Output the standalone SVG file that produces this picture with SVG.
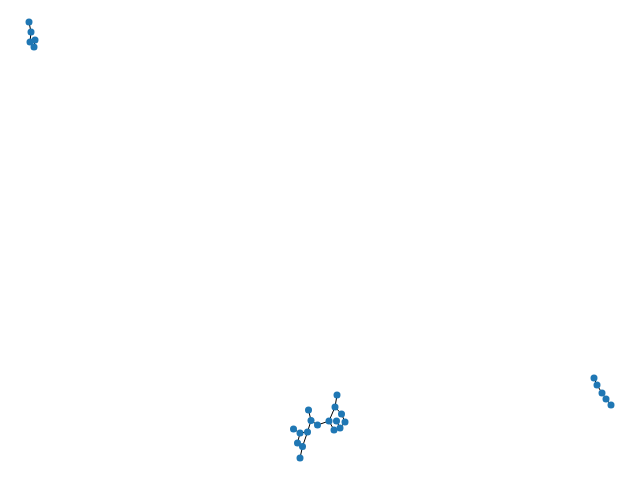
<svg xmlns="http://www.w3.org/2000/svg" width="640" height="480" viewBox="0 0 640 480">
<style>
.n{fill:#1f77b4}
.e{stroke:#000;stroke-width:1;fill:none}
</style>
<rect width="640" height="480" fill="#fff"/>
<g id="edges" class="e">
<path d="M29,22L31,32L30,42L35,40L34,47"/>
<path d="M594,378L597,385L602,393L606,399L611,405"/>
<path d="M337,395L335,407M335,407L341.5,414L345,422L340,428L334,430L329,421L335,407M336.5,421L340,428M329,421L317.5,425"/>
<path d="M308.5,410L311,420.5L317.5,425M311,420.5L307.5,432M307.5,432L300,433M293.5,429L300,433L297.5,443L302.5,446.5L307.5,432M302.5,446.5L300,458"/>
</g>
<g id="n1"><circle class="n" cx="29" cy="22" r="3.5"/></g>
<g id="n2"><circle class="n" cx="31" cy="32" r="3.5"/></g>
<g id="n3"><circle class="n" cx="30" cy="42" r="3.5"/></g>
<g id="n4"><circle class="n" cx="35" cy="40" r="3.5"/></g>
<g id="n5"><circle class="n" cx="34" cy="47" r="3.5"/></g>
<g id="n6"><circle class="n" cx="594" cy="378" r="3.5"/></g>
<g id="n7"><circle class="n" cx="597" cy="385" r="3.5"/></g>
<g id="n8"><circle class="n" cx="602" cy="393" r="3.5"/></g>
<g id="n9"><circle class="n" cx="606" cy="399" r="3.5"/></g>
<g id="n10"><circle class="n" cx="611" cy="405" r="3.5"/></g>
<g id="n11"><circle class="n" cx="337" cy="395" r="3.5"/></g>
<g id="n12"><circle class="n" cx="335" cy="407" r="3.5"/></g>
<g id="n13"><circle class="n" cx="341.5" cy="414" r="3.5"/></g>
<g id="n14"><circle class="n" cx="345" cy="422" r="3.5"/></g>
<g id="n15"><circle class="n" cx="340" cy="428" r="3.5"/></g>
<g id="n16"><circle class="n" cx="334" cy="430" r="3.5"/></g>
<g id="n17"><circle class="n" cx="329" cy="421" r="3.5"/></g>
<g id="n18"><circle class="n" cx="336.5" cy="421" r="3.5"/></g>
<g id="n19"><circle class="n" cx="317.5" cy="425" r="3.5"/></g>
<g id="n20"><circle class="n" cx="311" cy="420.5" r="3.5"/></g>
<g id="n21"><circle class="n" cx="308.5" cy="410" r="3.5"/></g>
<g id="n22"><circle class="n" cx="307.5" cy="432" r="3.5"/></g>
<g id="n23"><circle class="n" cx="300" cy="433" r="3.5"/></g>
<g id="n24"><circle class="n" cx="293.5" cy="429" r="3.5"/></g>
<g id="n25"><circle class="n" cx="297.5" cy="443" r="3.5"/></g>
<g id="n26"><circle class="n" cx="302.5" cy="446.5" r="3.5"/></g>
<g id="n27"><circle class="n" cx="300" cy="458" r="3.5"/></g>
</svg>
